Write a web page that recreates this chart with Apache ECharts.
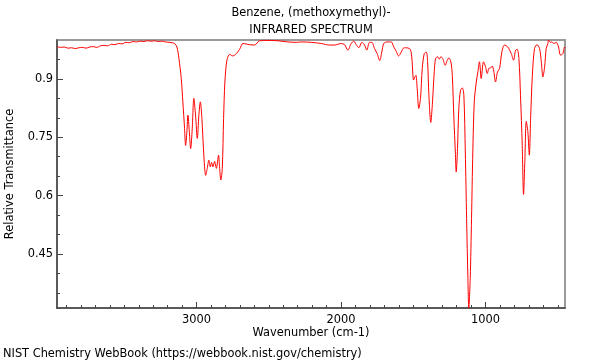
<!DOCTYPE html>
<html>
<head>
<meta charset="utf-8">
<script src="https://cdn.jsdelivr.net/npm/echarts@6/dist/echarts.min.js"></script>
<style>html,body{margin:0;padding:0;background:#fff}#c{width:600px;height:360px}</style>
</head>
<body>
<div id="c"></div>
<script>
const titleLines = ["Benzene, (methoxymethyl)-", "INFRARED SPECTRUM"];
const xTitle = "Wavenumber (cm-1)";
const yTitle = "Relative Transmittance";
const footer = "NIST Chemistry WebBook (https://webbook.nist.gov/chemistry)";

const xMajorTicks = [1000, 2000, 3000];
const xMinorTicks = [500,600,700,800,900,1000,1100,1200,1300,1400,1500,1600,1700,1800,1900,2000,2100,2200,2300,2400,2500,2600,2700,2800,2900,3000,3100,3200,3300,3400,3500,3600,3700,3800,3900];
const yMajorTicks = [0.45, 0.6, 0.75, 0.9];
const yMinorTicks = [0.35,0.4,0.45,0.5,0.55,0.6,0.65,0.7,0.75,0.8,0.85,0.9,0.95];

const wavenumber = [
3966,3940,3915,3890,3865,3840,3815,3790,3765,3740,3715,3690,3665,3640,3615,3590,3565,3540,3515,3490,3465,3440,3415,3390,3365,3340,3315,3290,3265,3240,3215,3190,3170,
3152,3136,3122,3106,3095,3083,3076,3067,3060,3050,3041,3030,3019,3007,2995,2984,2974,2963,2951,2937,2926,2915,2905,2896,2887,2875,2863,2848,2841,2832,2822,2813,2804,2790,2771,2748,2725,2702,
2679,2633,2598,2564,2506,2437,2368,2310,2275,2206,2137,2080,2045,1999,1976,1953,1930,1912,1895,1877,1856,1837,1822,1803,1787,1768,1750,1732,1718,1704,1681,1653,1635,1618,1602,1583,1565,
1554,1526,1515,1508,1498,1489,1482,1473,1462,1450,1438,1424,1410,1401,1392,1379,1367,1355,1346,1332,1320,1309,1296,1279,1265,1254,1240,1230,1219,1209,1203,1194,1185,1173,1161,1150,1140,1131,1122,1116,1106,1097,1088,1078,1064,1053,1042,1030,1014,1000,988,977,965,954,943,931,917,903,
887,869,846,822,806,792,781,769,758,746,737,728,718,707,697,688,676,661,644,626,614,603,591,580,568,564,550,541,527,510,495,481,465,453,450
];
const transmittance = [
0.983,0.981,0.982,0.979,0.980,0.978,0.980,0.981,0.979,0.982,0.983,0.981,0.985,0.986,0.985,0.989,0.988,0.991,0.990,0.994,0.993,0.996,0.995,0.997,0.996,0.998,0.997,0.998,0.996,0.997,0.995,0.994,0.993,
0.991,0.982,0.952,0.901,0.841,0.772,0.729,0.764,0.807,0.764,0.721,0.772,0.850,0.807,0.747,0.807,0.841,0.798,0.712,0.652,0.670,0.691,0.674,0.685,0.674,0.688,0.670,0.704,0.674,0.640,0.670,0.798,0.892,0.948,0.963,0.959,0.965,0.976,
0.991,0.988,0.987,0.998,0.999,0.998,0.995,0.994,0.995,0.994,0.991,0.987,0.987,0.991,0.988,0.974,0.991,0.997,0.988,0.980,0.994,0.987,0.974,0.994,0.994,0.978,0.965,0.947,0.969,0.991,0.995,0.995,0.982,0.971,0.959,0.969,0.980,
0.980,0.978,0.969,0.944,0.897,0.905,0.909,0.875,0.824,0.850,0.927,0.965,0.969,0.944,0.858,0.788,0.841,0.918,0.952,0.957,0.951,0.957,0.952,0.935,0.948,0.954,0.944,0.909,0.798,0.712,0.661,0.721,0.824,0.871,0.877,0.858,0.712,0.541,0.387,0.311,0.387,0.541,0.712,0.841,0.892,0.918,0.944,0.901,0.944,0.931,0.914,0.927,0.928,0.933,0.920,0.892,0.918,0.927,
0.969,0.987,0.982,0.965,0.948,0.974,0.976,0.952,0.858,0.729,0.603,0.687,0.791,0.764,0.704,0.798,0.909,0.978,0.988,0.978,0.944,0.905,0.931,0.978,0.991,1.0,0.994,0.995,0.991,0.994,0.982,0.961,0.965,0.982,0.980
];

const seriesData = wavenumber.map((w, i) => [w, transmittance[i]]);

const chart = echarts.init(document.getElementById('c'), null, {renderer: 'canvas'});
const FONT = 'DejaVu Sans';
const FS = 11.4;
const TXT = FS + 'px "DejaVu Sans"';
const X_MIN = 450, X_MAX = 3966, Y_MIN = 0.311, Y_MAX = 1.0;

chart.setOption({
  animation: false,
  backgroundColor: '#fff',
  grid: {left: 57, right: 35, top: 40, bottom: 52, show: true, borderColor: '#9a9a9a', borderWidth: 2, backgroundColor: 'transparent'},
  xAxis: [
    {type: 'value', inverse: true, min: X_MIN, max: X_MAX, position: 'bottom',
     axisLine: {show: true, lineStyle: {color: '#444', width: 1.5}},
     axisTick: {show: true, inside: true, length: 3, customValues: xMinorTicks, lineStyle: {color: '#444', width: 1}},
     axisLabel: {show: false}, splitLine: {show: false}},
    {type: 'value', inverse: true, min: X_MIN, max: X_MAX, position: 'bottom',
     axisLine: {show: false},
     axisTick: {show: true, inside: true, length: 6, customValues: xMajorTicks, lineStyle: {color: '#444', width: 1}},
     axisLabel: {show: true, customValues: xMajorTicks, margin: 7, color: '#000', fontFamily: FONT, fontSize: FS,
                 formatter: v => String(v)},
     splitLine: {show: false}}
  ],
  yAxis: [
    {type: 'value', min: Y_MIN, max: Y_MAX, position: 'left',
     axisLine: {show: true, lineStyle: {color: '#444', width: 1.5}},
     axisTick: {show: true, inside: true, length: 3, customValues: yMinorTicks, lineStyle: {color: '#444', width: 1}},
     axisLabel: {show: false}, splitLine: {show: false}},
    {type: 'value', min: Y_MIN, max: Y_MAX, position: 'left',
     axisLine: {show: false},
     axisTick: {show: true, inside: true, length: 6, customValues: yMajorTicks, lineStyle: {color: '#444', width: 1}},
     axisLabel: {show: true, customValues: yMajorTicks, margin: 4, color: '#000', fontFamily: FONT, fontSize: FS,
                 formatter: v => String(v)},
     splitLine: {show: false}}
  ],
  series: [{
    type: 'line', xAxisIndex: 0, yAxisIndex: 0, data: seriesData,
    showSymbol: false, smooth: 0.3, clip: true,
    lineStyle: {color: '#ff0000', width: 1}
  }],
  graphic: [
    {type: 'text', x: 311, y: 13, style: {text: titleLines[0], font: TXT, fill: '#000', textAlign: 'center', textVerticalAlign: 'middle'}},
    {type: 'text', x: 311, y: 30, style: {text: titleLines[1], font: TXT, fill: '#000', textAlign: 'center', textVerticalAlign: 'middle'}},
    {type: 'text', x: 311, y: 333, style: {text: xTitle, font: TXT, fill: '#000', textAlign: 'center', textVerticalAlign: 'middle'}},
    {type: 'text', x: 10, y: 174, rotation: Math.PI / 2, style: {text: yTitle, font: TXT, fill: '#000', textAlign: 'center', textVerticalAlign: 'middle'}},
    {type: 'text', x: 3, y: 354, style: {text: footer, font: TXT, fill: '#000', textAlign: 'left', textVerticalAlign: 'middle'}}
  ]
});
</script>
</body>
</html>
